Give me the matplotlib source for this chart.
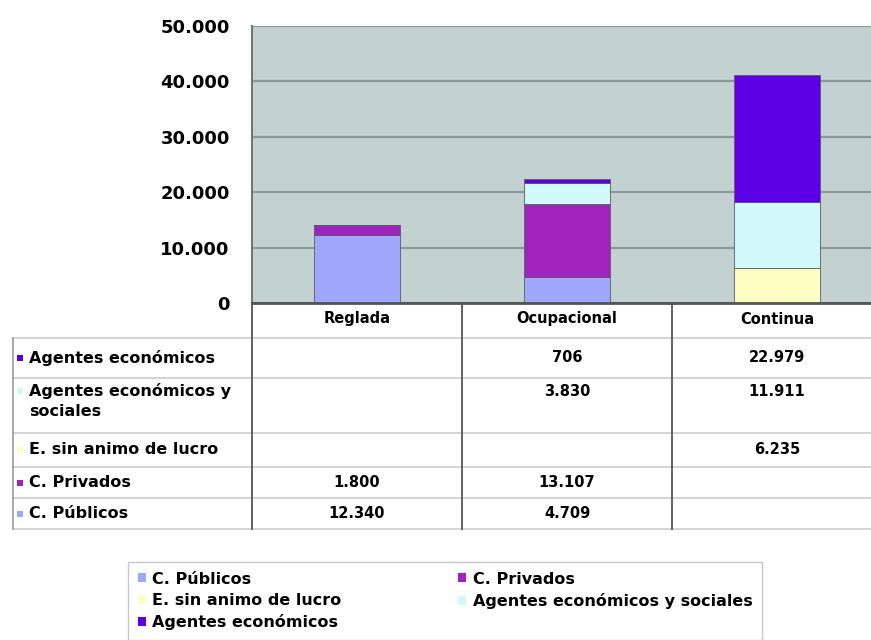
import matplotlib
matplotlib.use("Agg")
import matplotlib.pyplot as plt
from matplotlib.patches import Rectangle, Patch
from matplotlib.lines import Line2D
from matplotlib.transforms import blended_transform_factory
from matplotlib.ticker import FuncFormatter

plt.rcParams['font.family'] = ['DejaVu Sans']
plt.rcParams['font.weight'] = 'bold'

categories = ["Reglada", "Ocupacional", "Continua"]
# stacking order, bottom -> top
series = ["C. Públicos", "C. Privados", "E. sin animo de lucro",
          "Agentes económicos y sociales", "Agentes económicos"]
publicos = [12340, 4709, None]
privados = [1800, 13107, None]
sin_animo = [None, None, 6235]
sociales = [None, 3830, 11911]
economicos = [None, 706, 22979]
values = [publicos, privados, sin_animo, sociales, economicos]
colors = ["#9FA7FB", "#A023BE", "#FEFEC2", "#D2F9F9", "#5E00E6"]

W, H = 871, 640
fx = lambda x: x / W
fy = lambda y: 1 - y / H
FS = 11.5


def fmt(v):
    return f"{v:,.0f}".replace(",", ".")


fig = plt.figure(figsize=(W / 100, H / 100), dpi=100)
ax = fig.add_axes([fx(252), fy(303), fx(882) - fx(252), fy(26) - fy(303)])
ax.set_facecolor("#C3D1D1")

x = list(range(len(categories)))
bottoms = [0, 0, 0]
for vals, col in zip(values, colors):
    v = [0 if a is None else a for a in vals]
    ax.bar(x, v, 0.405, bottom=bottoms, color=col, edgecolor="#5a5a6a",
           linewidth=0.6, zorder=3)
    bottoms = [b + a for b, a in zip(bottoms, v)]

ax.set_xlim(-0.5, 2.5)
ax.set_ylim(0, 50000)
ax.set_yticks(range(0, 50001, 10000))
ax.yaxis.set_major_formatter(FuncFormatter(lambda v, p: fmt(v)))
ax.tick_params(axis="y", length=0, pad=16, labelsize=13)
ax.set_xticks([])
ax.grid(axis="y", color="#8E9999", linewidth=1.6, zorder=1)
for s in ["top", "right"]:
    ax.spines[s].set_visible(False)
ax.spines["left"].set_color("#6f7777")
ax.spines["left"].set_linewidth(1.5)
ax.spines["bottom"].set_color("#4f5555")
ax.spines["bottom"].set_linewidth(2)
ax.spines["bottom"].set_zorder(4)

# data table under the plot
tr = blended_transform_factory(ax.transData, fig.transFigure)
row_lines = [338, 378, 433, 467, 498, 529]
row_names = ["Agentes económicos", "Agentes económicos y\nsociales",
             "E. sin animo de lucro", "C. Privados", "C. Públicos"]
row_vals = [economicos, sociales, sin_animo, privados, publicos]
row_cols = [colors[4], colors[3], colors[2], colors[1], colors[0]]

for yl in row_lines:
    fig.add_artist(Line2D([fx(13), 1], [fy(yl), fy(yl)], color="#cccccc",
                          linewidth=1.2, transform=fig.transFigure))
fig.add_artist(Line2D([fx(13), fx(13)], [fy(338), fy(529)], color="#999999",
                      linewidth=1.2, transform=fig.transFigure))
for xd in [-0.5, 0.5, 1.5]:
    fig.add_artist(Line2D([xd, xd], [fy(303), fy(529)], color="#555555",
                          linewidth=1.3, transform=tr))

for i, c in enumerate(categories):
    fig.text(i, fy(319), c, transform=tr, ha="center", va="center", fontsize=10.5)

for r, (name, vals, col) in enumerate(zip(row_names, row_vals, row_cols)):
    top, bot = row_lines[r], row_lines[r + 1]
    two = "\n" in name
    ytxt = top + 13 if two else (top + bot) / 2
    fig.add_artist(Rectangle((fx(17), fy(ytxt) - 3 / H), 6 / W, 6 / H,
                             facecolor=col, edgecolor="none",
                             transform=fig.transFigure))
    fig.text(fx(29), fy(ytxt), name.split("\n")[0], ha="left", va="center",
             fontsize=FS)
    if two:
        fig.text(fx(29), fy(ytxt + 20), name.split("\n")[1], ha="left",
                 va="center", fontsize=FS)
    for i, v in enumerate(vals):
        if v is not None:
            fig.text(i, fy(ytxt), fmt(v), transform=tr, ha="center",
                     va="center", fontsize=10.5)

# legend
order = [0, 2, 4, 1, 3]
handles = [Patch(facecolor=colors[k], edgecolor="none", label=series[k]) for k in order]
leg = fig.legend(handles=handles, ncol=2, mode="expand",
                 bbox_to_anchor=(fx(128), fy(650), fx(762) - fx(128), fy(562) - fy(650)),
                 loc="upper left", fontsize=FS, frameon=True, fancybox=False,
                 handlelength=0.5, handleheight=0.5, handletextpad=0.4,
                 labelspacing=0.4, borderpad=0.6, borderaxespad=0)
leg.get_frame().set_edgecolor("#bbbbbb")
leg.get_frame().set_linewidth(1.0)

fig.savefig("out.png", dpi=100)
